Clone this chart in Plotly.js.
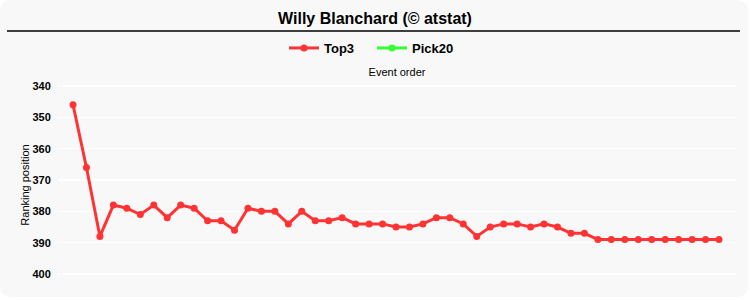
<!DOCTYPE html>
<html>
<head>
<meta charset="utf-8">
<script src="https://cdn.plot.ly/plotly-3.0.1.min.js"></script>
<style>
  html, body { margin: 0; padding: 0; background: #ffffff; }
  #wrap { position: absolute; left: 0; top: 0; width: 748px; height: 297px;
          background: #f8f8f8; border-radius: 10px; overflow: hidden; }
  #chart { width: 750px; height: 300px; }
</style>
</head>
<body>
<div id="wrap"><div id="chart"></div></div>
<script>
// Event order index
const events = [];
for (let i = 1; i <= 49; i++) events.push(i);

// Ranking position, series "Top3"
const top3 = [346, 366, 388, 378, 379, 381, 378, 382, 378, 379,
              383, 383, 386, 379, 380, 380, 384, 380, 383, 383,
              382, 384, 384, 384, 385, 385, 384, 382, 382, 384,
              388, 385, 384, 384, 385, 384, 385, 387, 387, 389,
              389, 389, 389, 389, 389, 389, 389, 389, 389];

// Series "Pick20" (no values shown in the chart)
const pick20 = events.map(() => null);

const yTicks = [340, 350, 360, 370, 380, 390, 400];

const traces = [
  {
    name: 'Top3', x: events, y: top3, type: 'scatter', mode: 'lines+markers',
    line: { color: '#ff3333', width: 3 },
    marker: { color: '#ff3333', size: 7 },
    hoverinfo: 'x+y'
  },
  {
    name: 'Pick20', x: events, y: pick20, type: 'scatter', mode: 'lines+markers',
    line: { color: '#33ff33', width: 3 },
    marker: { color: '#33ff33', size: 7 },
    showlegend: true
  }
];

const layout = {
  width: 750, height: 300,
  margin: { l: 58, r: 14, t: 80, b: 10 },
  paper_bgcolor: 'rgba(0,0,0,0)',
  plot_bgcolor: 'rgba(0,0,0,0)',
  font: { family: 'Arial, Liberation Sans, sans-serif', color: '#000000' },
  title: {
    text: 'Willy Blanchard (© atstat)',
    font: { family: 'Arial, Liberation Sans, sans-serif', size: 16, weight: 'bold', color: '#000' },
    x: 0.5, xanchor: 'center', xref: 'container',
    y: 1 - 18 / 300, yanchor: 'middle', yref: 'container'
  },
  showlegend: true,
  legend: {
    orientation: 'h', x: (284 - 58) / 678, xanchor: 'left',
    y: 1 + (80 - 48) / 210, yanchor: 'middle',
    entrywidth: 43, entrywidthmode: 'pixels',
    font: { size: 13, weight: 'bold', color: '#000' },
    bgcolor: 'rgba(0,0,0,0)'
  },
  xaxis: {
    side: 'top',
    range: [-0.115, 50.263],
    showticklabels: false, showgrid: false, zeroline: false, showline: false, ticks: '',
    title: { text: 'Event order', font: { size: 11, color: '#000' }, standoff: 0 },
    fixedrange: true
  },
  yaxis: {
    autorange: false,
    range: [405.09, 338.09],
    tickvals: yTicks,
    ticks: 'outside', ticklen: 4, tickcolor: 'rgba(0,0,0,0)',
    tickfont: { size: 11, weight: 'bold', color: '#000' },
    showgrid: true, gridcolor: '#ffffff', gridwidth: 1.5,
    zeroline: false, showline: false,
    title: { text: 'Ranking position', font: { size: 11, color: '#000' }, standoff: 0 },
    fixedrange: true
  },
  shapes: [
    {
      type: 'line', xref: 'paper', yref: 'paper',
      x0: (7 - 58) / 678, x1: (740 - 58) / 678,
      y0: 1 + (80 - 31) / 210, y1: 1 + (80 - 31) / 210,
      line: { color: '#000000', width: 1.5 }
    }
  ]
};

Plotly.newPlot('chart', traces, layout, { displayModeBar: false, staticPlot: true });
</script>
</body>
</html>
